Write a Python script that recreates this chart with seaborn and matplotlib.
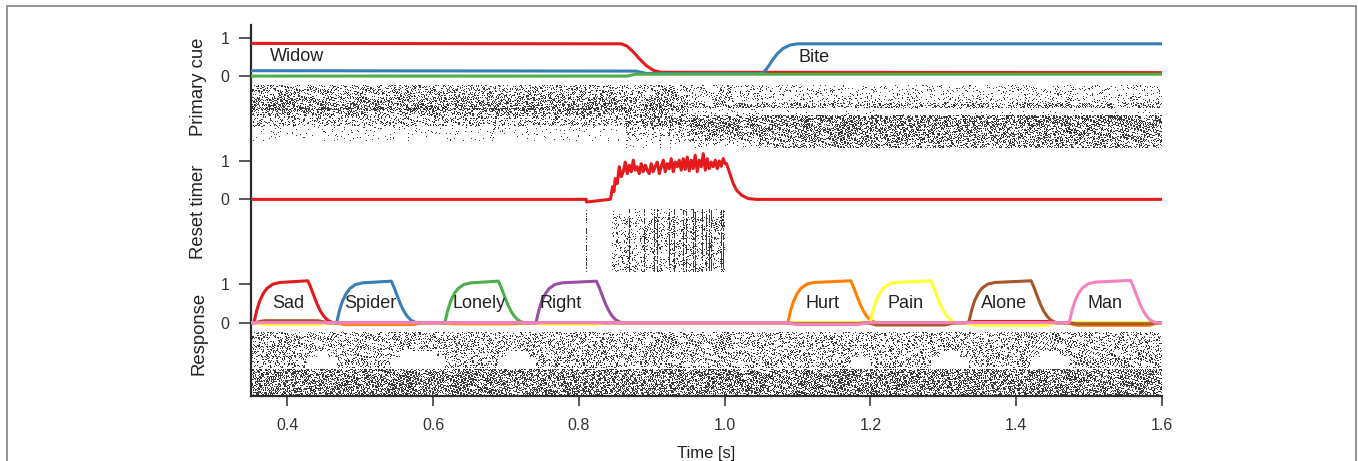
import numpy as np
import pandas as pd
import matplotlib
matplotlib.use("Agg")
import matplotlib.pyplot as plt
from matplotlib import transforms
from matplotlib.patches import Rectangle
import seaborn as sns

# ------------------------------------------------------------------
# Data
# ------------------------------------------------------------------
T_START, T_END = 0.35, 1.6

# Primary cue units (value vs. time)
widow_t = [0.35, 0.858, 0.866, 0.875, 0.883, 0.892, 0.902, 0.912, 1.6]
widow_v = [0.85, 0.84, 0.78, 0.62, 0.45, 0.28, 0.15, 0.10, 0.09]
bite_t = [0.35, 0.878, 0.892, 1.052, 1.058, 1.065, 1.072, 1.080, 1.090, 1.100, 1.6]
bite_v = [0.14, 0.13, 0.07, 0.07, 0.20, 0.40, 0.58, 0.72, 0.81, 0.84, 0.84]
other_t = [0.35, 0.866, 0.878, 1.6]
other_v = [0.0, 0.0, 0.05, 0.05]

# Reset timer output
reset_t = [0.35, 0.8099, 0.8105, 0.826, 0.8425,
           0.8434, 0.8461, 0.8480, 0.8498, 0.8525, 0.8553, 0.8580, 0.8608,
           0.8635, 0.8663, 0.8690, 0.8718, 0.8745, 0.8772, 0.8800, 0.8827,
           0.8855, 0.8882, 0.8910, 0.8937, 0.8964, 0.8992, 0.9019, 0.9047,
           0.9074, 0.9102, 0.9129, 0.9157, 0.9184, 0.9211, 0.9239, 0.9266,
           0.9294, 0.9321, 0.9349, 0.9376, 0.9403, 0.9431, 0.9458, 0.9486,
           0.9513, 0.9541, 0.9568, 0.9595, 0.9623, 0.9650, 0.9678, 0.9705,
           0.9733, 0.9760, 0.9787, 0.9815, 0.9842, 0.9870, 0.9897, 0.9925,
           0.9952, 0.9979, 1.0007, 1.0025, 1.0071, 1.0117, 1.0162, 1.0231,
           1.0322, 1.0437, 1.6]
reset_v = [0.0, 0.0, -0.07, -0.035, 0.0,
           0.02, 0.33, 0.20, 0.54, 0.41, 0.85, 0.59, 0.72,
           0.97, 0.67, 0.89, 0.72, 1.02, 0.76, 0.85, 0.67,
           0.93, 0.72, 0.89, 0.76, 0.67, 0.93, 0.72, 0.86,
           0.97, 0.67, 0.85, 1.02, 0.72, 0.93, 0.80, 1.06,
           0.72, 0.97, 0.85, 1.02, 0.76, 1.06, 0.78, 1.10,
           0.74, 1.02, 0.80, 1.15, 0.72, 1.02, 0.85, 1.19,
           0.76, 1.06, 0.80, 0.97, 0.85, 1.02, 0.80, 1.00,
           0.86, 1.06, 0.93, 0.93, 0.67, 0.41, 0.24, 0.11,
           0.02, 0.0, 0.0]

# Response units: one bump per word
resp_words = ["Sad", "Spider", "Lonely", "Right", "Hurt", "Pain", "Alone", "Man"]
resp_on = [0.354, 0.4675, 0.616, 0.741, 1.0866, 1.1995, 1.3348, 1.4727]
resp_off = [0.428, 0.5425, 0.6895, 0.824, 1.173, 1.283, 1.4204, 1.557]
resp_peak = [1.09, 1.08, 1.08, 1.08, 1.09, 1.09, 1.09, 1.10]
# shared rise / decay profile (time after onset / offset, fraction of peak)
rise_dt = [0.0, 0.004, 0.008, 0.013, 0.018, 0.026, 0.036]
rise_frac = [0.0, 0.30, 0.52, 0.70, 0.82, 0.92, 0.96]
fall_dt = [0.0, 0.004, 0.0085, 0.013, 0.0175, 0.022, 0.027, 0.034]
fall_frac = [1.0, 0.84, 0.63, 0.43, 0.27, 0.15, 0.06, 0.0]
# small baseline shifts of silent units while another word is active
drift_word = ["Alone", "Pain", "Hurt", "Hurt", "Pain", "Alone", "Man",
              "Alone", "Pain", "Sad", "Hurt", "Alone"]
drift_t0 = [0.36, 0.36, 0.47, 0.62, 0.745, 1.09, 1.09, 1.20, 1.335, 1.335, 1.475, 1.475]
drift_t1 = [0.45, 0.45, 0.58, 0.72, 0.83, 1.19, 1.19, 1.31, 1.45, 1.45, 1.59, 1.59]
drift_v = [0.05, -0.05, -0.05, -0.03, -0.04, -0.03, -0.05, -0.06, -0.07, 0.03, -0.07, -0.03]

# Spike rasters: firing density per group of neurons and time window
cue_row_edges = [0, 12, 18, 23, 25, 30, 40, 50, 55, 62]
cue_seg_edges = [0.35, 0.865, 0.95, 1.045, 1.6]
cue_density = [
    [0.26, 0.22, 0.13, 0.10],
    [0.36, 0.30, 0.15, 0.13],
    [0.42, 0.38, 0.34, 0.34],
    [0.60, 0.38, 0.06, 0.02],
    [0.34, 0.30, 0.05, 0.02],
    [0.22, 0.38, 0.46, 0.46],
    [0.04, 0.22, 0.34, 0.40],
    [0.03, 0.08, 0.26, 0.38],
    [0.00, 0.03, 0.08, 0.34],
]

timer_row_edges = [0, 8, 62]
timer_seg_edges = [0.35, 0.845, 1.0, 1.6]
timer_density = [
    [0.0, 0.04, 0.0],
    [0.0, 0.16, 0.0],
]
timer_burst_t = [0.8105, 0.8699, 0.8905, 0.9042, 0.9079, 0.9248, 0.9316,
                 0.9440, 0.9477, 0.9568, 0.9595, 0.9696, 0.9751, 0.9787,
                 0.9819, 0.9952, 0.9979]
timer_burst_density = [0.6, 0.8, 0.8, 0.8, 0.8, 0.8, 0.7, 0.8, 0.8, 0.8,
                       0.8, 0.8, 0.8, 0.8, 0.8, 0.8, 0.8]

resp_row_edges = [0, 19, 25, 35, 36, 62]
resp_density = [0.24, 0.24, 0.24, 0.0, 0.46]

# ------------------------------------------------------------------
# Style
# ------------------------------------------------------------------
sns.set_style("ticks")
plt.rcParams["font.family"] = ["Liberation Sans", "DejaVu Sans"]
INK = "#2b2b2b"
pal = sns.color_palette("Set1", 8)

CUE_OFF, TIMER_OFF, RESP_OFF = 6.42, 3.21, 0.0
RASTER_TOP, RASTER_BOT = -0.27, -1.885
N_ROWS, N_COLS = 62, 911

fig = plt.figure(figsize=(13.58, 4.61), dpi=100)
ax = fig.add_axes([251 / 1358, 1 - 396 / 461, 911 / 1358, 371 / 461])


def density_grid(row_edges, seg_edges, dens):
    t = T_START + (np.arange(N_COLS) + 0.5) * (T_END - T_START) / N_COLS
    seg = np.clip(np.searchsorted(seg_edges, t, side="right") - 1, 0, len(seg_edges) - 2)
    band = np.clip(np.searchsorted(row_edges, np.arange(N_ROWS), side="right") - 1,
                   0, len(row_edges) - 2)
    d = np.asarray(dens, dtype=float)
    if d.ndim == 1:
        d = d[:, None] * np.ones(len(seg_edges) - 1)
    return t, d[band][:, seg]


def draw_raster(grid, offset):
    # quadratic Weyl threshold: deterministic, evenly spread dither;
    # rows are paired so each spike mark is two pixels tall
    r = (np.arange(N_ROWS) // 2).astype(float)[:, None] + 0.37 * (np.arange(N_ROWS) % 2)[:, None]
    c = np.arange(N_COLS, dtype=float)[None, :]
    thr = (0.5 + r * 0.7548776662 + c * 0.5698402910
           + r * r * 0.41421356 + c * c * 0.31830989 + r * c * 0.23606798) % 1.0
    on = grid > thr
    img = np.zeros((N_ROWS, N_COLS, 4))
    img[..., :3] = 0.1
    img[..., 3] = on * 0.85
    ax.imshow(img, extent=(T_START, T_END, offset + RASTER_BOT, offset + RASTER_TOP),
              aspect="auto", interpolation="nearest", origin="upper", zorder=1)


# primary cue raster
_, g = density_grid(cue_row_edges, cue_seg_edges, cue_density)
draw_raster(g, CUE_OFF)

# reset timer raster with synchronous bursts
tt, g = density_grid(timer_row_edges, timer_seg_edges, timer_density)
for bt, bd in zip(timer_burst_t, timer_burst_density):
    g[:, np.argmin(np.abs(tt - bt))] = bd
draw_raster(g, TIMER_OFF)

# response raster with quiet gaps between consecutive words
tt, g = density_grid(resp_row_edges, [T_START, T_END], resp_density)
for a, b in zip(resp_off[:-1], resp_on[1:]):
    if b - a < 0.1:
        g[25:35, (tt > a) & (tt < b)] = 0.0
        g[19:25, (tt > a + 0.012) & (tt < b - 0.012)] = 0.0
draw_raster(g, RESP_OFF)

# ------------------------------------------------------------------
# Traces
# ------------------------------------------------------------------
cue_rows = []
for name, ts, vs in [("Widow", widow_t, widow_v), ("Bite", bite_t, bite_v),
                     ("other", other_t, other_v)]:
    cue_rows += [dict(series=name, t=t, y=v + CUE_OFF) for t, v in zip(ts, vs)]
cue_df = pd.DataFrame(cue_rows)
sns.lineplot(data=cue_df, x="t", y="y", hue="series", hue_order=["Widow", "Bite", "other"],
             palette=pal[:3], estimator=None, legend=False, linewidth=2.2, ax=ax, zorder=3)

timer_df = pd.DataFrame(dict(t=reset_t, y=np.asarray(reset_v) + TIMER_OFF))
sns.lineplot(data=timer_df, x="t", y="y", color=pal[0], estimator=None,
             linewidth=2.2, ax=ax, zorder=3)

resp_rows = []
for i, name in enumerate(resp_words):
    pts = {T_START: 0.0, T_END: 0.0}
    on, off, pk = resp_on[i], resp_off[i], resp_peak[i]
    for w, a, b, v in zip(drift_word, drift_t0, drift_t1, drift_v):
        if w == name:
            pts[a - 0.006] = 0.0
            pts[a + 0.008] = v
            pts[b - 0.008] = v
            pts[b + 0.006] = 0.0
    for dt, f in zip(rise_dt, rise_frac):
        pts[on + dt] = f * pk
    for dt, f in zip(fall_dt, fall_frac):
        pts[off + dt] = f * pk
    for t in sorted(pts):
        resp_rows.append(dict(word=name, t=t, y=pts[t] + RESP_OFF))
resp_df = pd.DataFrame(resp_rows)
sns.lineplot(data=resp_df, x="t", y="y", hue="word", hue_order=resp_words, palette=pal,
             estimator=None, legend=False, linewidth=2.2, ax=ax, zorder=3)

# ------------------------------------------------------------------
# Labels
# ------------------------------------------------------------------
label_kw = dict(fontsize=13, color="#222222", ha="center", va="center", zorder=5)
for txt, x, y in [("Widow", 0.4135, CUE_OFF + 0.52), ("Bite", 1.1227, CUE_OFF + 0.48)]:
    ax.text(x, y, txt, **label_kw)
word_x = [0.4006, 0.514, 0.6627, 0.7745, 1.1347, 1.2486, 1.3826, 1.522]
for txt, x in zip(resp_words, word_x):
    ax.text(x, RESP_OFF + 0.5, txt, **label_kw)

blend = transforms.blended_transform_factory(ax.transAxes, ax.transData)
for txt, y in [("Primary cue", 6.146), ("Reset timer", 2.896), ("Response", -0.294)]:
    ax.text(-0.0571, y, txt, transform=blend, rotation=90, ha="center", va="center",
            fontsize=13.3, color="#222222")

ax.set_xlim(T_START, T_END)
ax.set_ylim(-1.91, 7.75)
ax.set_xticks([0.4, 0.6, 0.8, 1.0, 1.2, 1.4, 1.6])
ax.set_xticklabels(["0.4", "0.6", "0.8", "1.0", "1.2", "1.4", "1.6"])
yt = [CUE_OFF + 1, CUE_OFF, TIMER_OFF + 1, TIMER_OFF, RESP_OFF + 1, RESP_OFF]
ax.set_yticks(yt)
ax.set_yticklabels(["1", "0"] * 3)
ax.set_xlabel("Time [s]", fontsize=12, color="#222222", labelpad=9)
ax.set_ylabel("")
ax.tick_params(axis="x", length=7, width=1.1, pad=9, labelsize=11.5,
               color=INK, labelcolor="#333333")
ax.tick_params(axis="y", length=8.5, width=1.1, pad=7, labelsize=11.5,
               color=INK, labelcolor="#333333")
for s in ["top", "right"]:
    ax.spines[s].set_visible(False)
for s in ["left", "bottom"]:
    ax.spines[s].set_color(INK)
    ax.spines[s].set_linewidth(1.6)

# outer frame
fig.patches.append(Rectangle((7 / 1358, -0.1), 1349 / 1358, 1 - 6 / 461 + 0.1,
                             transform=fig.transFigure, fill=False,
                             edgecolor="#8a8a8a", linewidth=1.3))

fig.savefig("out.png", dpi=100)
